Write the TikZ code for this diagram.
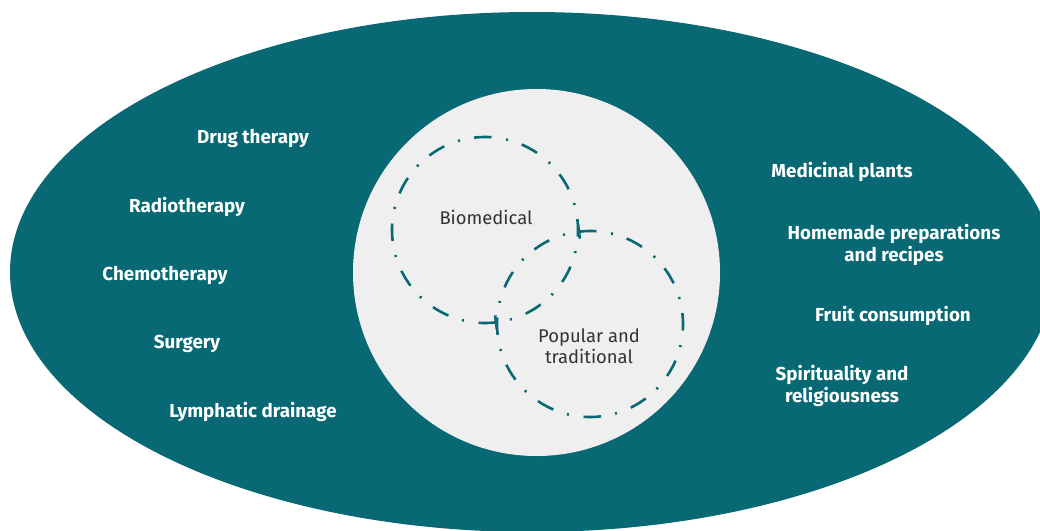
\documentclass[tikz,border=0pt]{standalone}
\usepackage{fontspec}
\setmainfont{Fira Sans}
\definecolor{teal1}{HTML}{086874}
\definecolor{lightgray1}{HTML}{EFEFEF}
\definecolor{ink}{HTML}{333333}
\begin{document}
\begin{tikzpicture}[x=1pt,y=1pt,
  outer/.style={font=\fontsize{18.8}{22}\selectfont\bfseries, text=white, align=center, anchor=base, inner sep=0pt},
  inner/.style={font=\fontsize{18.4}{21}\selectfont, text=ink, align=center, anchor=base, inner sep=0pt},
  ring/.style={draw=teal1, line width=2.6pt, dash pattern=on 17.5pt off 14.85pt on 2pt off 14.35pt},
  tick/.style={draw=teal1, line width=2.6pt}
]
\useasboundingbox (0,0) rectangle (1040,-530);
\fill[teal1] (532,-272) ellipse [x radius=522, y radius=260];
\fill[lightgray1] (536.5,-272.5) circle [radius=183.5];
% Biomedical ring
\coordinate (bioc) at (485,-230);
\draw[ring] (bioc) ++(276.8:93) arc[start angle=276.8, end angle=-83.2, radius=93];
\draw[tick] (bioc) ++(276.8:86) -- ++(276.8:14);
% Popular ring
\coordinate (popc) at (590,-324);
\draw[ring] (popc) ++(96.8:93) arc[start angle=96.8, end angle=-263.2, radius=93];
\draw[tick] (popc) ++(96.8:86) -- ++(96.8:14);
% labels
\node[outer] (drug) at (253,-143) {Drug therapy};
\node[outer] (radio) at (187,-212) {Radiotherapy};
\node[outer] (chemo) at (165,-280) {Chemotherapy};
\node[outer] (surgery) at (187,-348) {Surgery};
\node[outer] (lymph) at (253,-417) {Lymphatic drainage};
\node[outer] (plants) at (842,-177) {Medicinal plants};
\node[outer] (homemade) at (894,-261) {Homemade preparations\\and recipes};
\node[outer] (fruit) at (893,-321) {Fruit consumption};
\node[outer] (spirit) at (842,-402) {Spirituality and\\religiousness};
\node[inner] (bio) at (486,-224) {Biomedical};
\node[inner] (popular) at (589,-363) {Popular and\\traditional};
\end{tikzpicture}
\end{document}
